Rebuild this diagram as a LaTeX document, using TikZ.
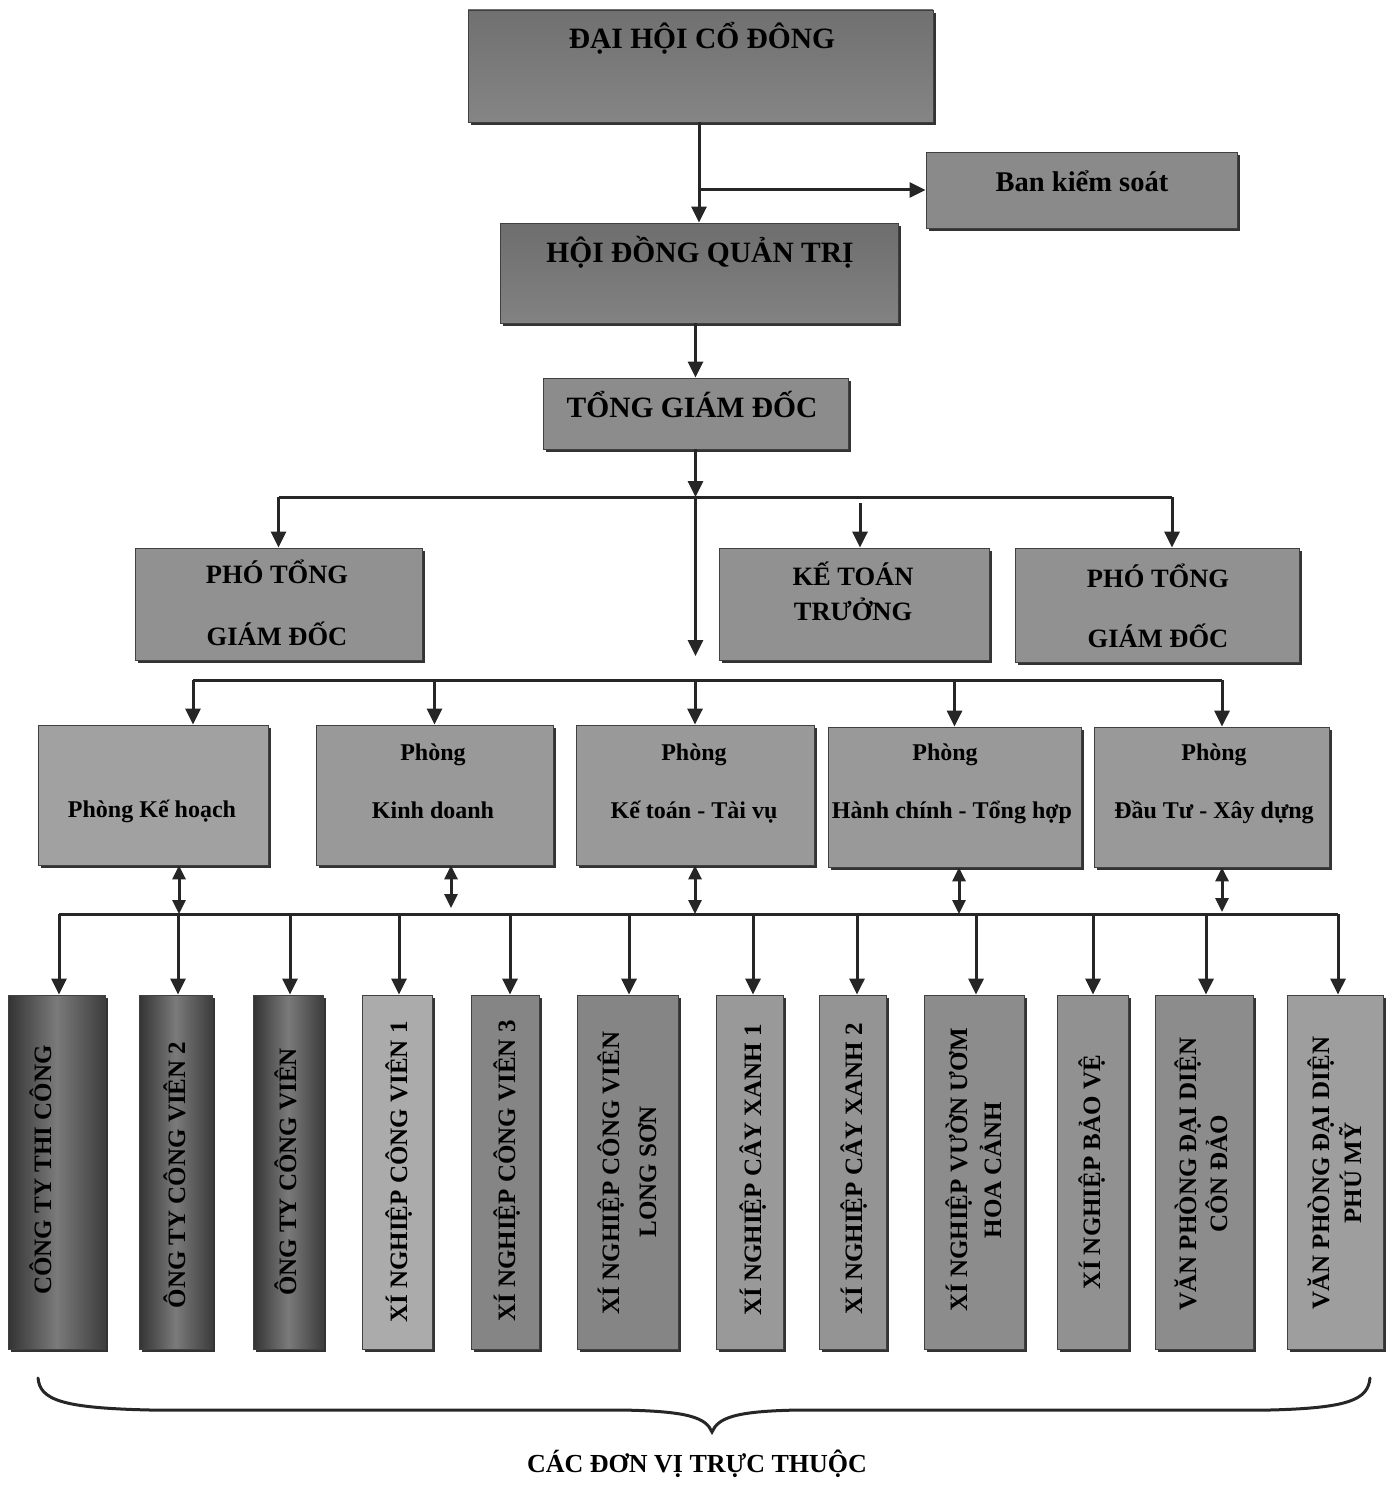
\documentclass[tikz,border=0pt]{standalone}
\usepackage{fontspec}
\setmainfont{Liberation Serif}
\usetikzlibrary{arrows.meta,shadows,fit}
\begin{document}
\begin{tikzpicture}[x=1pt,y=-1pt,
  box/.style={draw=black!75, line width=0.8pt, inner sep=0pt,
    drop shadow={shadow xshift=3pt,shadow yshift=-3pt,fill=black!80,opacity=1}},
  ttl/.style={font=\bfseries\fontsize{29.5}{32}\selectfont, inner sep=0pt, anchor=base},
  ttm/.style={font=\bfseries\fontsize{26.5}{30}\selectfont, inner sep=0pt, anchor=base},
  tts/.style={font=\bfseries\fontsize{24}{28}\selectfont, inner sep=0pt, anchor=base},
  vt/.style={font=\bfseries\fontsize{25}{30}\selectfont, inner sep=0pt, anchor=base, rotate=90},
  ln/.style={line width=3pt, draw=black!85},
  arr/.style={ln, -{Triangle[width=15pt,length=16pt]}},
  darr/.style={ln, {Triangle[width=13pt,length=14pt]}-{Triangle[width=13pt,length=14pt]}},
  dark/.style={left color=black!80, right color=black!76, middle color=black!52},
]
\fill[white] (0,0) rectangle (1394,1490);
\useasboundingbox (0,0) rectangle (1394,1490);

% top levels
\node[box, top color=black!56, bottom color=black!48, fit={(468,10)(933,122)}] (dh) {};
\node[ttl] (dht) at (702,49) {ĐẠI HỘI CỔ ĐÔNG};
\node[box, fill=black!46, fit={(926,152)(1237,228)}] (bks) {};
\node[ttl, font=\bfseries\fontsize{28.5}{32}\selectfont] (bkst) at (1082,192) {Ban kiểm soát};
\node[box, top color=black!57, bottom color=black!49, fit={(500,223)(898,323)}] (hd) {};
\node[ttl] (hdt) at (700,262) {HỘI ĐỒNG QUẢN TRỊ};
\node[box, fill=black!45, fit={(543,378)(848,449)}] (tgd) {};
\node[ttl] (tgdt) at (692,417) {TỔNG GIÁM ĐỐC};

% second level
\node[box, fill=black!43, fit={(135,548)(422,660)}] (ptg1) {};
\node[ttm] (ptg1a) at (277,583) {PHÓ TỔNG};
\node[ttm] (ptg1b) at (277,645) {GIÁM ĐỐC};
\node[box, fill=black!43, fit={(719,548)(989,660)}] (kt) {};
\node[ttm] (kta) at (853,585) {KẾ TOÁN};
\node[ttm] (ktb) at (853,620) {TRƯỞNG};
\node[box, fill=black!43, fit={(1015,548)(1299,662)}] (ptg2) {};
\node[ttm] (ptg2a) at (1158,587) {PHÓ TỔNG};
\node[ttm] (ptg2b) at (1158,647) {GIÁM ĐỐC};

% departments
\node[box, fill=black!37, fit={(38,725)(268,865)}] (pkh) {};
\node[tts] (pkht) at (152,817) {Phòng Kế hoạch};
\node[box, fill=black!40, fit={(316,725)(553,865)}] (pkd) {};
\node[tts] (pkda) at (433,760) {Phòng};
\node[tts] (pkdb) at (433,818) {Kinh doanh};
\node[box, fill=black!40, fit={(576,725)(814,865)}] (pkt) {};
\node[tts] (pkta) at (694,760) {Phòng};
\node[tts] (pktb) at (694,818) {Kế toán - Tài vụ};
\node[box, fill=black!40, fit={(828,727)(1081,867)}] (phc) {};
\node[tts] (phca) at (945,760) {Phòng};
\node[tts] (phcb) at (952,818) {Hành chính - Tổng hợp};
\node[box, fill=black!40, fit={(1094,727)(1329,867)}] (pdt) {};
\node[tts] (pdta) at (1214,760) {Phòng};
\node[tts] (pdtb) at (1214,818) {Đầu Tư - Xây dựng};

% units
\node[box, dark, fit={(8,995)(105,1349)}] (v1) {};
\node[vt] (v1t) at (51,1170) {CÔNG TY THI CÔNG};
\node[box, dark, fit={(139,995)(212,1349)}] (v2) {};
\node[vt] (v2t) at (185,1175) {ÔNG TY CÔNG VIÊN 2};
\node[box, dark, fit={(253,995)(323,1349)}] (v3) {};
\node[vt] (v3t) at (296,1172) {ÔNG TY CÔNG VIÊN};
\node[box, fill=black!33, fit={(362,995)(432,1349)}] (v4) {};
\node[vt] (v4t) at (407,1172) {XÍ NGHIỆP CÔNG VIÊN 1};
\node[box, fill=black!48, fit={(471,995)(539,1349)}] (v5) {};
\node[vt] (v5t) at (515,1171) {XÍ NGHIỆP CÔNG VIÊN 3};
\node[box, fill=black!48, fit={(577,995)(678,1349)}] (v6) {};
\node[vt] (v6a) at (619,1173) {XÍ NGHIỆP CÔNG VIÊN};
\node[vt] (v6b) at (656,1172) {LONG SƠN};
\node[box, fill=black!40, fit={(716,995)(783,1349)}] (v7) {};
\node[vt] (v7t) at (761,1170) {XÍ NGHIỆP CÂY XANH 1};
\node[box, fill=black!42, fit={(819,995)(886,1349)}] (v8) {};
\node[vt] (v8t) at (862,1169) {XÍ NGHIỆP CÂY XANH 2};
\node[box, fill=black!45, fit={(924,995)(1024,1349)}] (v9) {};
\node[vt] (v9a) at (967,1170) {XÍ NGHIỆP VƯỜN ƯƠM};
\node[vt] (v9b) at (1001,1170) {HOA CẢNH};
\node[box, fill=black!43, fit={(1057,995)(1128,1349)}] (v10) {};
\node[vt] (v10t) at (1100,1172) {XÍ NGHIỆP BẢO VỆ};
\node[box, fill=black!45, fit={(1155,995)(1253,1349)}] (v11) {};
\node[vt] (v11a) at (1196,1174) {VĂN PHÒNG ĐẠI DIỆN};
\node[vt] (v11b) at (1227,1174) {CÔN ĐẢO};
\node[box, fill=black!38, fit={(1287,995)(1383,1349)}] (v12) {};
\node[vt] (v12a) at (1329,1173) {VĂN PHÒNG ĐẠI DIỆN};
\node[vt] (v12b) at (1361,1173) {PHÚ MỸ};

% connectors
\coordinate (j1) at (hd.north |- bks.west);
\draw[arr] (hd.north |- dh.south) -- (hd.north);
\draw[arr] (j1) -- (bks.west);
\draw[arr] (tgd.north |- hd.south) -- (tgd.north);

\coordinate (b1) at (695.5,497);
\coordinate (b1L) at (278.5,497);
\coordinate (b1R) at (1172,497);
\coordinate (b1K) at (860,503);
\coordinate (c1) at (695.5,656);
\draw[arr] (tgd.south) -- (b1);
\draw[ln] (b1L) -- (b1R);
\draw[arr] (b1L) -- (ptg1.north);
\draw[arr] (b1R) -- (b1R |- ptg2.north);
\draw[arr] (b1K) -- (b1K |- kt.north);
\draw[arr] (b1) -- (c1);

\coordinate (b2L) at (193,680);
\coordinate (b2R) at (1222,680);
\draw[ln] (b2L) -- (b2R);
\draw[arr] (b2L) -- (b2L |- pkh.north);
\draw[arr] (pkd.north |- b2L) -- (pkd.north);
\draw[arr] (pkt.north |- b2L) -- (pkt.north);
\draw[arr] (phc.north |- b2L) -- (phc.north);
\draw[arr] (b2R) -- (b2R |- pdt.north);

\coordinate (b3L) at (59,914);
\coordinate (b3R) at (1338,914);
\draw[ln] (b3L) -- (b3R);
\coordinate (d1) at (179,914);
\coordinate (d2) at (451,908);
\coordinate (d3) at (695,914);
\coordinate (d4) at (959,914);
\coordinate (d5) at (1222,912);
\draw[darr] (d1 |- pkh.south) -- (d1);
\draw[darr] (d2 |- pkd.south) -- (d2);
\draw[darr] (d3 |- pkt.south) -- (d3);
\draw[darr] (d4 |- phc.south) -- (d4);
\draw[darr] (d5 |- pdt.south) -- (d5);

\foreach \n/\x in {v1/59, v2/178, v3/290, v4/399, v5/510, v6/629, v7/753, v8/857, v9/976, v10/1093, v11/1206, v12/1338}
  \draw[arr] (\x,914) -- (\x,0 |- \n.north);

% brace
\draw[line width=3pt, black!85, line cap=round]
  (38,1378) .. controls (40,1400) and (62,1408) .. (150,1410)
  -- (620,1410) .. controls (690,1411) and (706,1418) .. (712,1432)
  .. controls (718,1418) and (734,1411) .. (800,1410)
  -- (1270,1410) .. controls (1348,1408) and (1368,1400) .. (1370,1378);
\node[ttl, font=\bfseries\fontsize{26}{30}\selectfont] (cap) at (697,1472) {CÁC ĐƠN VỊ TRỰC THUỘC};
\end{tikzpicture}
\end{document}
